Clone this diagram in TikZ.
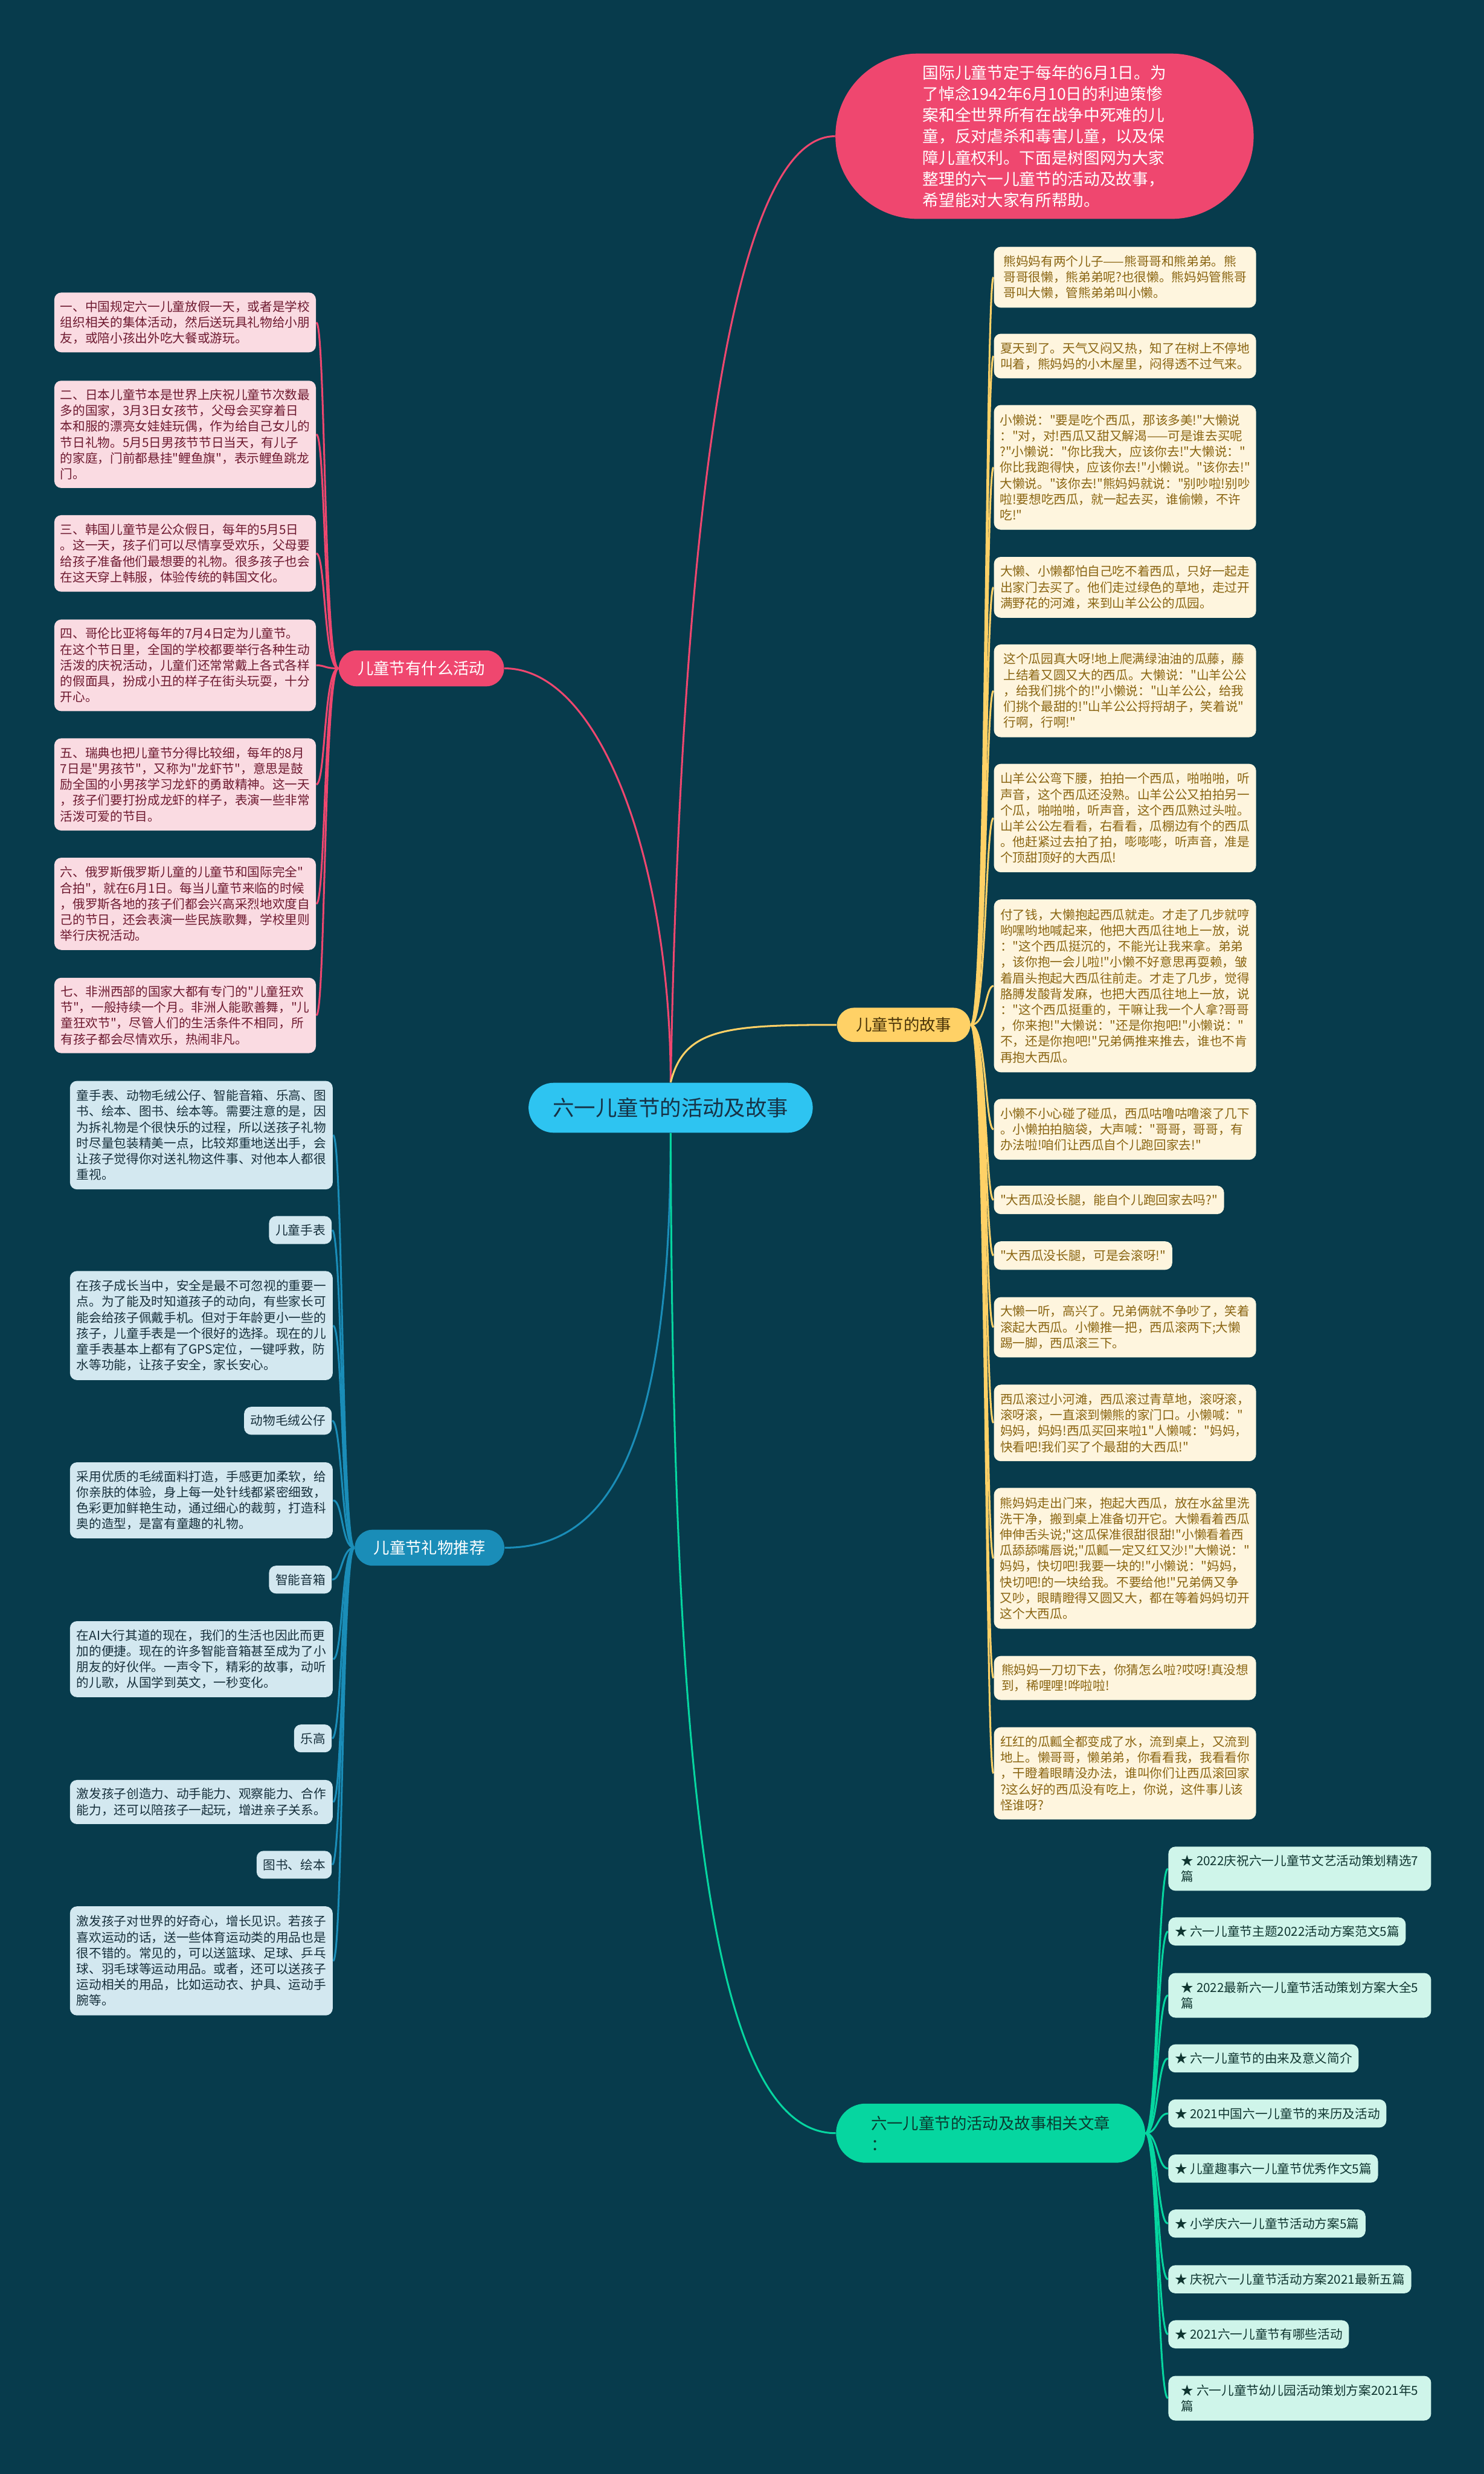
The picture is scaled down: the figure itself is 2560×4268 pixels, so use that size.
\documentclass[tikz,border=0pt]{standalone}
\usepackage{fontspec}
\setmainfont{Noto Sans CJK SC}[Ligatures=TeXOff]
\usetikzlibrary{calc}
\pgfdeclarelayer{bglayer}
\pgfdeclarelayer{linelayer}
\pgfsetlayers{bglayer,linelayer,main}
\definecolor{bgc}{HTML}{073B4C}
\definecolor{cpink}{HTML}{EF476F}
\definecolor{cyel}{HTML}{FFD166}
\definecolor{cblue}{HTML}{1A8DB8}
\definecolor{cgreen}{HTML}{06D6A0}
\definecolor{ccen}{HTML}{2EC4F1}
\definecolor{pinkL}{HTML}{FADBE2}
\definecolor{pinkT}{HTML}{6E1A30}
\definecolor{yelL}{HTML}{FEF5DE}
\definecolor{yelT}{HTML}{8A6512}
\definecolor{blueL}{HTML}{D3E8F0}
\definecolor{blueT}{HTML}{17303C}
\definecolor{greenL}{HTML}{CFF5EA}
\definecolor{greenT}{HTML}{0F3530}
\definecolor{cenT}{HTML}{163246}
\definecolor{ybT}{HTML}{4A3408}
\definecolor{gbT}{HTML}{0B3A30}
\begin{document}
\begin{tikzpicture}[x=0.01cm,y=-0.01cm,
  subtext/.style={inner sep=0pt, align=left, rounded corners=0.12cm, font=\fontsize{6.12pt}{7.77pt}\selectfont},
  pbox/.style={subtext, fill=pinkL, text=pinkT, anchor=north west, minimum width=4.51cm},
  ybox/.style={subtext, fill=yelL, text=yelT, anchor=north west, minimum width=4.52cm},
  ysmall/.style={subtext, fill=yelL, text=yelT, anchor=west, inner xsep=0.11cm, minimum height=0.49cm},
  bbox/.style={subtext, fill=blueL, text=blueT, anchor=north west, minimum width=4.53cm},
  bsmall/.style={subtext, fill=blueL, text=blueT, anchor=east, inner xsep=0.11cm, minimum height=0.48cm},
  gbox/.style={subtext, fill=greenL, text=greenT, anchor=north west, minimum width=4.53cm},
  gsmall/.style={subtext, fill=greenL, text=greenT, anchor=west, inner xsep=0.11cm, minimum height=0.485cm},
  branchfont/.style={font=\fontsize{7.82pt}{9pt}\selectfont, inner sep=0pt, align=center},
  pline/.style={draw=cpink, line width=0.9pt},
  yline/.style={draw=cyel, line width=0.9pt},
  bline/.style={draw=cblue, line width=0.9pt},
  gline/.style={draw=cgreen, line width=0.9pt}
]
\begin{pgfonlayer}{bglayer}
\fill[bgc] (0,0) rectangle (2560,4268);
\end{pgfonlayer}
\useasboundingbox (0,0) rectangle (2560,4268);

% central and branches
\node[fill=ccen, text=cenT, rounded corners=0.43cm, minimum width=4.90cm, minimum height=0.86cm, inner sep=0pt, font=\fontsize{10.5pt}{12pt}\selectfont] (c) at (1157,1911) {六一儿童节的活动及故事};
\node[fill=cpink, text=white, rounded corners=1.42cm, minimum width=7.21cm, minimum height=2.85cm, inner sep=0pt, align=left, font=\fontsize{7.9pt}{10.44pt}\selectfont] (top) at (1802,235) {国际儿童节定于每年的6月1日。为\\了悼念1942年6月10日的利迪策惨\\案和全世界所有在战争中死难的儿\\童，反对虐杀和毒害儿童，以及保\\障儿童权利。下面是树图网为大家\\整理的六一儿童节的活动及故事，\\希望能对大家有所帮助。};
\node[branchfont, fill=cpink, text=white, rounded corners=0.31cm, minimum width=2.85cm, minimum height=0.62cm] (bp) at (727,1153) {儿童节有什么活动};
\node[branchfont, fill=cyel, text=ybT, rounded corners=0.295cm, minimum width=2.30cm, minimum height=0.59cm] (by) at (1559,1768) {儿童节的故事};
\node[branchfont, fill=cblue, text=white, rounded corners=0.31cm, minimum width=2.58cm, minimum height=0.62cm] (bb) at (741,2670) {儿童节礼物推荐};
\node[branchfont, fill=cgreen, text=gbT, rounded corners=0.51cm, minimum width=5.33cm, minimum height=1.02cm, align=left, font=\fontsize{7.82pt}{10.4pt}\selectfont] (bg) at (1709,3680) {六一儿童节的活动及故事相关文章\\：};

% pink activity boxes
\node[pbox, minimum height=1.03cm] (p1) at (93,504) {一、中国规定六一儿童放假一天，或者是学校\\组织相关的集体活动，然后送玩具礼物给小朋\\友，或陪小孩出外吃大餐或游玩。};
\node[pbox, minimum height=1.85cm] (p2) at (93,656) {二、日本儿童节本是世界上庆祝儿童节次数最\\多的国家，3月3日女孩节，父母会买穿着日\\本和服的漂亮女娃娃玩偶，作为给自己女儿的\\节日礼物。5月5日男孩节节日当天，有儿子\\的家庭，门前都悬挂"鲤鱼旗"，表示鲤鱼跳龙\\门。};
\node[pbox, minimum height=1.32cm] (p3) at (93,888) {三、韩国儿童节是公众假日，每年的5月5日\\。这一天，孩子们可以尽情享受欢乐，父母要\\给孩子准备他们最想要的礼物。很多孩子也会\\在这天穿上韩服，体验传统的韩国文化。};
\node[pbox, minimum height=1.58cm] (p4) at (93,1068) {四、哥伦比亚将每年的7月4日定为儿童节。\\在这个节日里，全国的学校都要举行各种生动\\活泼的庆祝活动，儿童们还常常戴上各式各样\\的假面具，扮成小丑的样子在街头玩耍，十分\\开心。};
\node[pbox, minimum height=1.59cm] (p5) at (93,1273) {五、瑞典也把儿童节分得比较细，每年的8月\\7日是"男孩节"，又称为"龙虾节"，意思是鼓\\励全国的小男孩学习龙虾的勇敢精神。这一天\\，孩子们要打扮成龙虾的样子，表演一些非常\\活泼可爱的节目。};
\node[pbox, minimum height=1.59cm] (p6) at (93,1479) {六、俄罗斯俄罗斯儿童的儿童节和国际完全"\\合拍"，就在6月1日。每当儿童节来临的时候\\，俄罗斯各地的孩子们都会兴高采烈地欢度自\\己的节日，还会表演一些民族歌舞，学校里则\\举行庆祝活动。};
\node[pbox, minimum height=1.30cm] (p7) at (93,1686) {七、非洲西部的国家大都有专门的"儿童狂欢\\节"，一般持续一个月。非洲人能歌善舞，"儿\\童狂欢节"，尽管人们的生活条件不相同，所\\有孩子都会尽情欢乐，热闹非凡。};

% yellow story boxes
\node[ybox, minimum height=1.05cm] (s1) at (1714,425) {熊妈妈有两个儿子——熊哥哥和熊弟弟。熊\\哥哥很懒，熊弟弟呢?也很懒。熊妈妈管熊哥\\哥叫大懒，管熊弟弟叫小懒。};
\node[ybox, minimum height=0.77cm] (s2) at (1714,575) {夏天到了。天气又闷又热，知了在树上不停地\\叫着，熊妈妈的小木屋里，闷得透不过气来。};
\node[ybox, minimum height=2.15cm] (s3) at (1714,698) {小懒说："要是吃个西瓜，那该多美!"大懒说\\："对，对!西瓜又甜又解渴——可是谁去买呢\\?"小懒说："你比我大，应该你去!"大懒说："\\你比我跑得快，应该你去!"小懒说。"该你去!"\\大懒说。"该你去!"熊妈妈就说："别吵啦!别吵\\啦!要想吃西瓜，就一起去买，谁偷懒，不许\\吃!"};
\node[ybox, minimum height=1.05cm] (s4) at (1714,960) {大懒、小懒都怕自己吃不着西瓜，只好一起走\\出家门去买了。他们走过绿色的草地，走过开\\满野花的河滩，来到山羊公公的瓜园。};
\node[ybox, minimum height=1.60cm] (s5) at (1714,1111) {这个瓜园真大呀!地上爬满绿油油的瓜藤，藤\\上结着又圆又大的西瓜。大懒说："山羊公公\\，给我们挑个的!"小懒说："山羊公公，给我\\们挑个最甜的!"山羊公公捋捋胡子，笑着说"\\行啊，行啊!"};
\node[ybox, minimum height=1.87cm] (s6) at (1714,1317) {山羊公公弯下腰，拍拍一个西瓜，啪啪啪，听\\声音，这个西瓜还没熟。山羊公公又拍拍另一\\个瓜，啪啪啪，听声音，这个西瓜熟过头啦。\\山羊公公左看看，右看看，瓜棚边有个的西瓜\\。他赶紧过去拍了拍，嘭嘭嘭，听声音，准是\\个顶甜顶好的大西瓜!};
\node[ybox, minimum height=2.98cm] (s7) at (1714,1551) {付了钱，大懒抱起西瓜就走。才走了几步就哼\\哟嘿哟地喊起来，他把大西瓜往地上一放，说\\："这个西瓜挺沉的，不能光让我来拿。弟弟\\，该你抱一会儿啦!"小懒不好意思再耍赖，皱\\着眉头抱起大西瓜往前走。才走了几步，觉得\\胳膊发酸背发麻，也把大西瓜往地上一放，说\\："这个西瓜挺重的，干嘛让我一个人拿?哥哥\\，你来抱!"大懒说："还是你抱吧!"小懒说："\\不，还是你抱吧!"兄弟俩推来推去，谁也不肯\\再抱大西瓜。};
\node[ybox, minimum height=1.05cm] (s8) at (1714,1895) {小懒不小心碰了碰瓜，西瓜咕噜咕噜滚了几下\\。小懒拍拍脑袋，大声喊："哥哥，哥哥，有\\办法啦!咱们让西瓜自个儿跑回家去!"};
\node[ysmall] (s9) at (1714,2070) {"大西瓜没长腿，能自个儿跑回家去吗?"};
\node[ysmall] (s10) at (1714,2166) {"大西瓜没长腿，可是会滚呀!"};
\node[ybox, minimum height=1.04cm] (s11) at (1714,2237) {大懒一听，高兴了。兄弟俩就不争吵了，笑着\\滚起大西瓜。小懒推一把，西瓜滚两下;大懒\\踢一脚，西瓜滚三下。};
\node[ybox, minimum height=1.32cm] (s12) at (1714,2388) {西瓜滚过小河滩，西瓜滚过青草地，滚呀滚，\\滚呀滚，一直滚到懒熊的家门口。小懒喊："\\妈妈，妈妈!西瓜买回来啦1"人懒喊："妈妈，\\快看吧!我们买了个最甜的大西瓜!"};
\node[ybox, minimum height=2.43cm] (s13) at (1714,2566) {熊妈妈走出门来，抱起大西瓜，放在水盆里洗\\洗干净，搬到桌上准备切开它。大懒看着西瓜\\伸伸舌头说;"这瓜保准很甜很甜!"小懒看着西\\瓜舔舔嘴唇说;"瓜瓤一定又红又沙!"大懒说："\\妈妈，快切吧!我要一块的!"小懒说："妈妈，\\快切吧!的一块给我。不要给他!"兄弟俩又争\\又吵，眼睛瞪得又圆又大，都在等着妈妈切开\\这个大西瓜。};
\node[ybox, minimum height=0.76cm] (s14) at (1714,2856) {熊妈妈一刀切下去，你猜怎么啦?哎呀!真没想\\到，稀哩哩!哗啦啦!};
\node[ybox, minimum height=1.59cm] (s15) at (1714,2979) {红红的瓜瓤全都变成了水，流到桌上，又流到\\地上。懒哥哥，懒弟弟，你看看我，我看看你\\，干瞪着眼睛没办法，谁叫你们让西瓜滚回家\\?这么好的西瓜没有吃上，你说，这件事儿该\\怪谁呀?};

% blue gift boxes
\node[bbox, minimum height=1.87cm] (g1) at (120,1864) {童手表、动物毛绒公仔、智能音箱、乐高、图\\书、绘本、图书、绘本等。需要注意的是，因\\为拆礼物是个很快乐的过程，所以送孩子礼物\\时尽量包装精美一点，比较郑重地送出手，会\\让孩子觉得你对送礼物这件事、对他本人都很\\重视。};
\node[bsmall] (g2) at (573,2122) {儿童手表};
\node[bbox, minimum height=1.88cm] (g3) at (120,2192) {在孩子成长当中，安全是最不可忽视的重要一\\点。为了能及时知道孩子的动向，有些家长可\\能会给孩子佩戴手机。但对于年龄更小一些的\\孩子，儿童手表是一个很好的选择。现在的儿\\童手表基本上都有了GPS定位，一键呼救，防\\水等功能，让孩子安全，家长安心。};
\node[bsmall] (g4) at (573,2451) {动物毛绒公仔};
\node[bbox, minimum height=1.31cm] (g5) at (120,2522) {采用优质的毛绒面料打造，手感更加柔软，给\\你亲肤的体验，身上每一处针线都紧密细致，\\色彩更加鲜艳生动，通过细心的裁剪，打造科\\奥的造型，是富有童趣的礼物。};
\node[bsmall] (g6) at (573,2725) {智能音箱};
\node[bbox, minimum height=1.31cm] (g7) at (120,2796) {在AI大行其道的现在，我们的生活也因此而更\\加的便捷。现在的许多智能音箱甚至成为了小\\朋友的好伙伴。一声令下，精彩的故事，动听\\的儿歌，从国学到英文，一秒变化。};
\node[bsmall] (g8) at (573,2999) {乐高};
\node[bbox, minimum height=0.76cm] (g9) at (120,3070) {激发孩子创造力、动手能力、观察能力、合作\\能力，还可以陪孩子一起玩，增进亲子关系。};
\node[bsmall] (g10) at (573,3217) {图书、绘本};
\node[bbox, minimum height=1.88cm] (g11) at (120,3288) {激发孩子对世界的好奇心，增长见识。若孩子\\喜欢运动的话，送一些体育运动类的用品也是\\很不错的。常见的，可以送篮球、足球、乒乓\\球、羽毛球等运动用品。或者，还可以送孩子\\运动相关的用品，比如运动衣、护具、运动手\\腕等。};

% green article boxes
\node[gbox, minimum height=0.76cm] (a1) at (2015,3185) {★ 2022庆祝六一儿童节文艺活动策划精选7\\篇};
\node[gsmall] (a2) at (2015,3332) {★ 六一儿童节主题2022活动方案范文5篇};
\node[gbox, minimum height=0.77cm] (a3) at (2015,3403) {★ 2022最新六一儿童节活动策划方案大全5\\篇};
\node[gsmall] (a4) at (2015,3551) {★ 六一儿童节的由来及意义简介};
\node[gsmall] (a5) at (2015,3646) {★ 2021中国六一儿童节的来历及活动};
\node[gsmall] (a6) at (2015,3741) {★ 儿童趣事六一儿童节优秀作文5篇};
\node[gsmall] (a7) at (2015,3836) {★ 小学庆六一儿童节活动方案5篇};
\node[gsmall] (a8) at (2015,3932) {★ 庆祝六一儿童节活动方案2021最新五篇};
\node[gsmall] (a9) at (2015,4027) {★ 2021六一儿童节有哪些活动};
\node[gbox, minimum height=0.77cm] (a10) at (2015,4098) {★ 六一儿童节幼儿园活动策划方案2021年5\\篇};

\begin{pgfonlayer}{linelayer}
% main connectors
\draw[pline] (c.north) .. controls (1175,900) and (1260,235) .. (top.west);
\draw[pline] (c.north) .. controls (1157,1500) and (1040,1153) .. (bp.east);
\draw[yline] (c.north) .. controls (1180,1775) and (1250,1768) .. (by.west);
\draw[bline] (c.south) .. controls (1157,2500) and (1050,2670) .. (bb.east);
\draw[gline] (c.south) .. controls (1160,3100) and (1230,3680) .. (bg.west);
% pink sub connectors
\foreach \n in {p1,p2,p3,p4,p5,p6,p7}
  \draw[pline] (bp.west) .. controls +(-25,0) and +(16,0) .. (\n.east);
% yellow sub connectors
\foreach \n in {s1,s2,s3,s4,s5,s6,s7,s8,s9,s10,s11,s12,s13,s14,s15}
  \draw[yline] (by.east) .. controls +(27,0) and +(-14,0) .. (\n.west);
% blue sub connectors
\foreach \n in {g1,g2,g3,g4,g5,g6,g7,g8,g9,g10,g11}
  \draw[bline] (bb.west) .. controls +(-22,0) and +(17,0) .. (\n.east);
% green sub connectors
\foreach \n in {a1,a2,a3,a4,a5,a6,a7,a8,a9,a10}
  \draw[gline] (bg.east) .. controls +(21,0) and +(-18,0) .. (\n.west);
\end{pgfonlayer}
\end{tikzpicture}
\end{document}
